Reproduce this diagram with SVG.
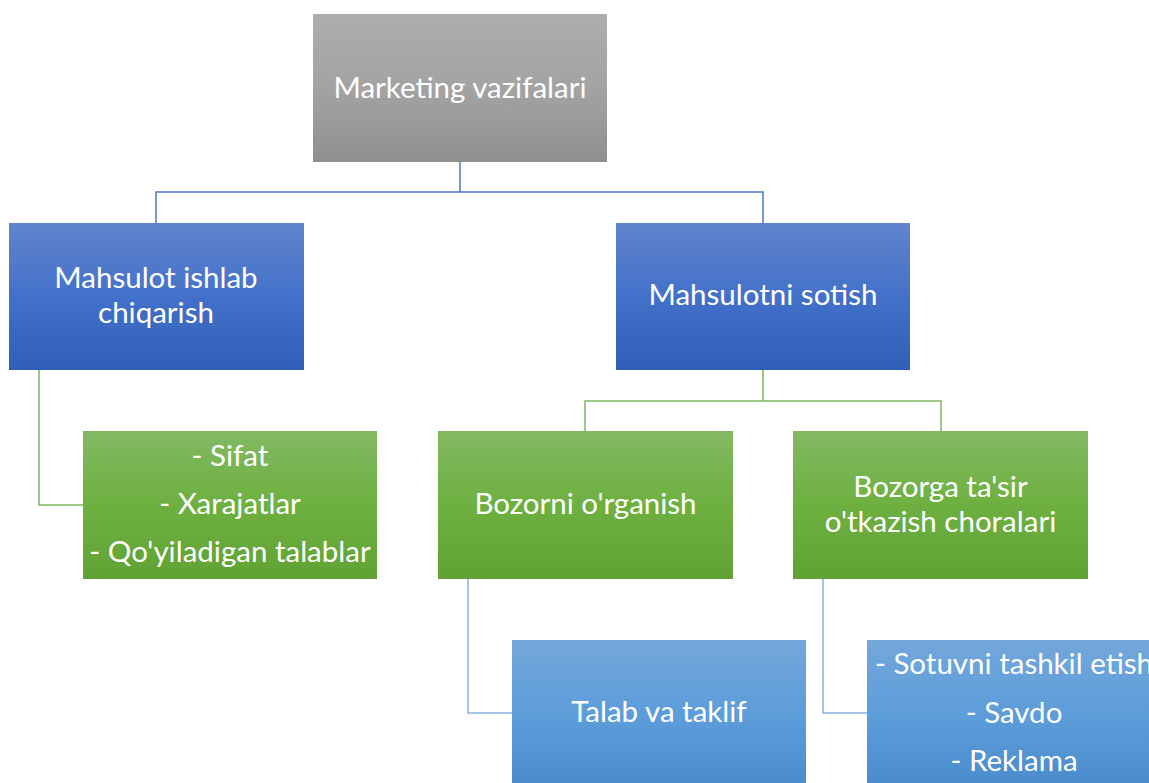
<svg xmlns="http://www.w3.org/2000/svg" width="1149" height="783" viewBox="0 0 1149 783">
<defs>
<linearGradient id="gGray" x1="0" y1="0" x2="0" y2="1"><stop offset="0" stop-color="#adadad"/><stop offset="0.5" stop-color="#a3a3a3"/><stop offset="1" stop-color="#8f8f8f"/></linearGradient>
<linearGradient id="gBlue" x1="0" y1="0" x2="0" y2="1"><stop offset="0" stop-color="#6184cc"/><stop offset="0.5" stop-color="#4371c9"/><stop offset="1" stop-color="#2f5fb7"/></linearGradient>
<linearGradient id="gGreen" x1="0" y1="0" x2="0" y2="1"><stop offset="0" stop-color="#82b963"/><stop offset="0.5" stop-color="#6eb040"/><stop offset="1" stop-color="#61a235"/></linearGradient>
<linearGradient id="gLight" x1="0" y1="0" x2="0" y2="1"><stop offset="0" stop-color="#73a7da"/><stop offset="0.5" stop-color="#5d9dda"/><stop offset="1" stop-color="#4a8bcc"/></linearGradient>
</defs>
<style>
text{font-family:Lato,"Open Sans","Liberation Sans",sans-serif;font-size:29.5px;fill:#ffffff;text-anchor:middle}
.c{fill:none;stroke-width:1.5}
.cb{stroke:#4a78c8}
.cg{stroke:#7db559}
.cl{stroke:#86b3e2}
</style>
<g id="connectors">
<path class="c cb" d="M460 162V192M156 223V192H763V223"/>
<path class="c cg" d="M39 370V505H83"/>
<path class="c cg" d="M763 370V401M585 431V401H941V431"/>
<path class="c cl" d="M468 579V713H512"/>
<path class="c cl" d="M823 579V713H867"/>
</g>
<g id="n-marketing">
<rect x="313" y="14" width="294" height="148" fill="url(#gGray)"/>
<text x="460" y="98">Marketing vazifalari</text>
</g>
<g id="n-ishlab">
<rect x="9" y="223" width="295" height="147" fill="url(#gBlue)"/>
<text x="156" y="288">Mahsulot ishlab</text>
<text x="156" y="323">chiqarish</text>
</g>
<g id="n-sotish">
<rect x="616" y="223" width="294" height="147" fill="url(#gBlue)"/>
<text x="763" y="305">Mahsulotni sotish</text>
</g>
<g id="n-sifat">
<rect x="83" y="431" width="294" height="148" fill="url(#gGreen)"/>
<text x="230" y="466">- Sifat</text>
<text x="230" y="514">- Xarajatlar</text>
<text x="230" y="562">- Qo'yiladigan talablar</text>
</g>
<g id="n-organish">
<rect x="438" y="431" width="295" height="148" fill="url(#gGreen)"/>
<text x="585.5" y="514">Bozorni o'rganish</text>
</g>
<g id="n-tasir">
<rect x="793" y="431" width="295" height="148" fill="url(#gGreen)"/>
<text x="940.5" y="497">Bozorga ta'sir</text>
<text x="940.5" y="532">o'tkazish choralari</text>
</g>
<g id="n-talab">
<rect x="512" y="640" width="294" height="148" fill="url(#gLight)"/>
<text x="659" y="722">Talab va taklif</text>
</g>
<g id="n-sotuv">
<rect x="867" y="640" width="294" height="148" fill="url(#gLight)"/>
<text x="1014" y="674">- Sotuvni tashkil etish</text>
<text x="1014" y="723">- Savdo</text>
<text x="1014" y="771">- Reklama</text>
</g>
</svg>
